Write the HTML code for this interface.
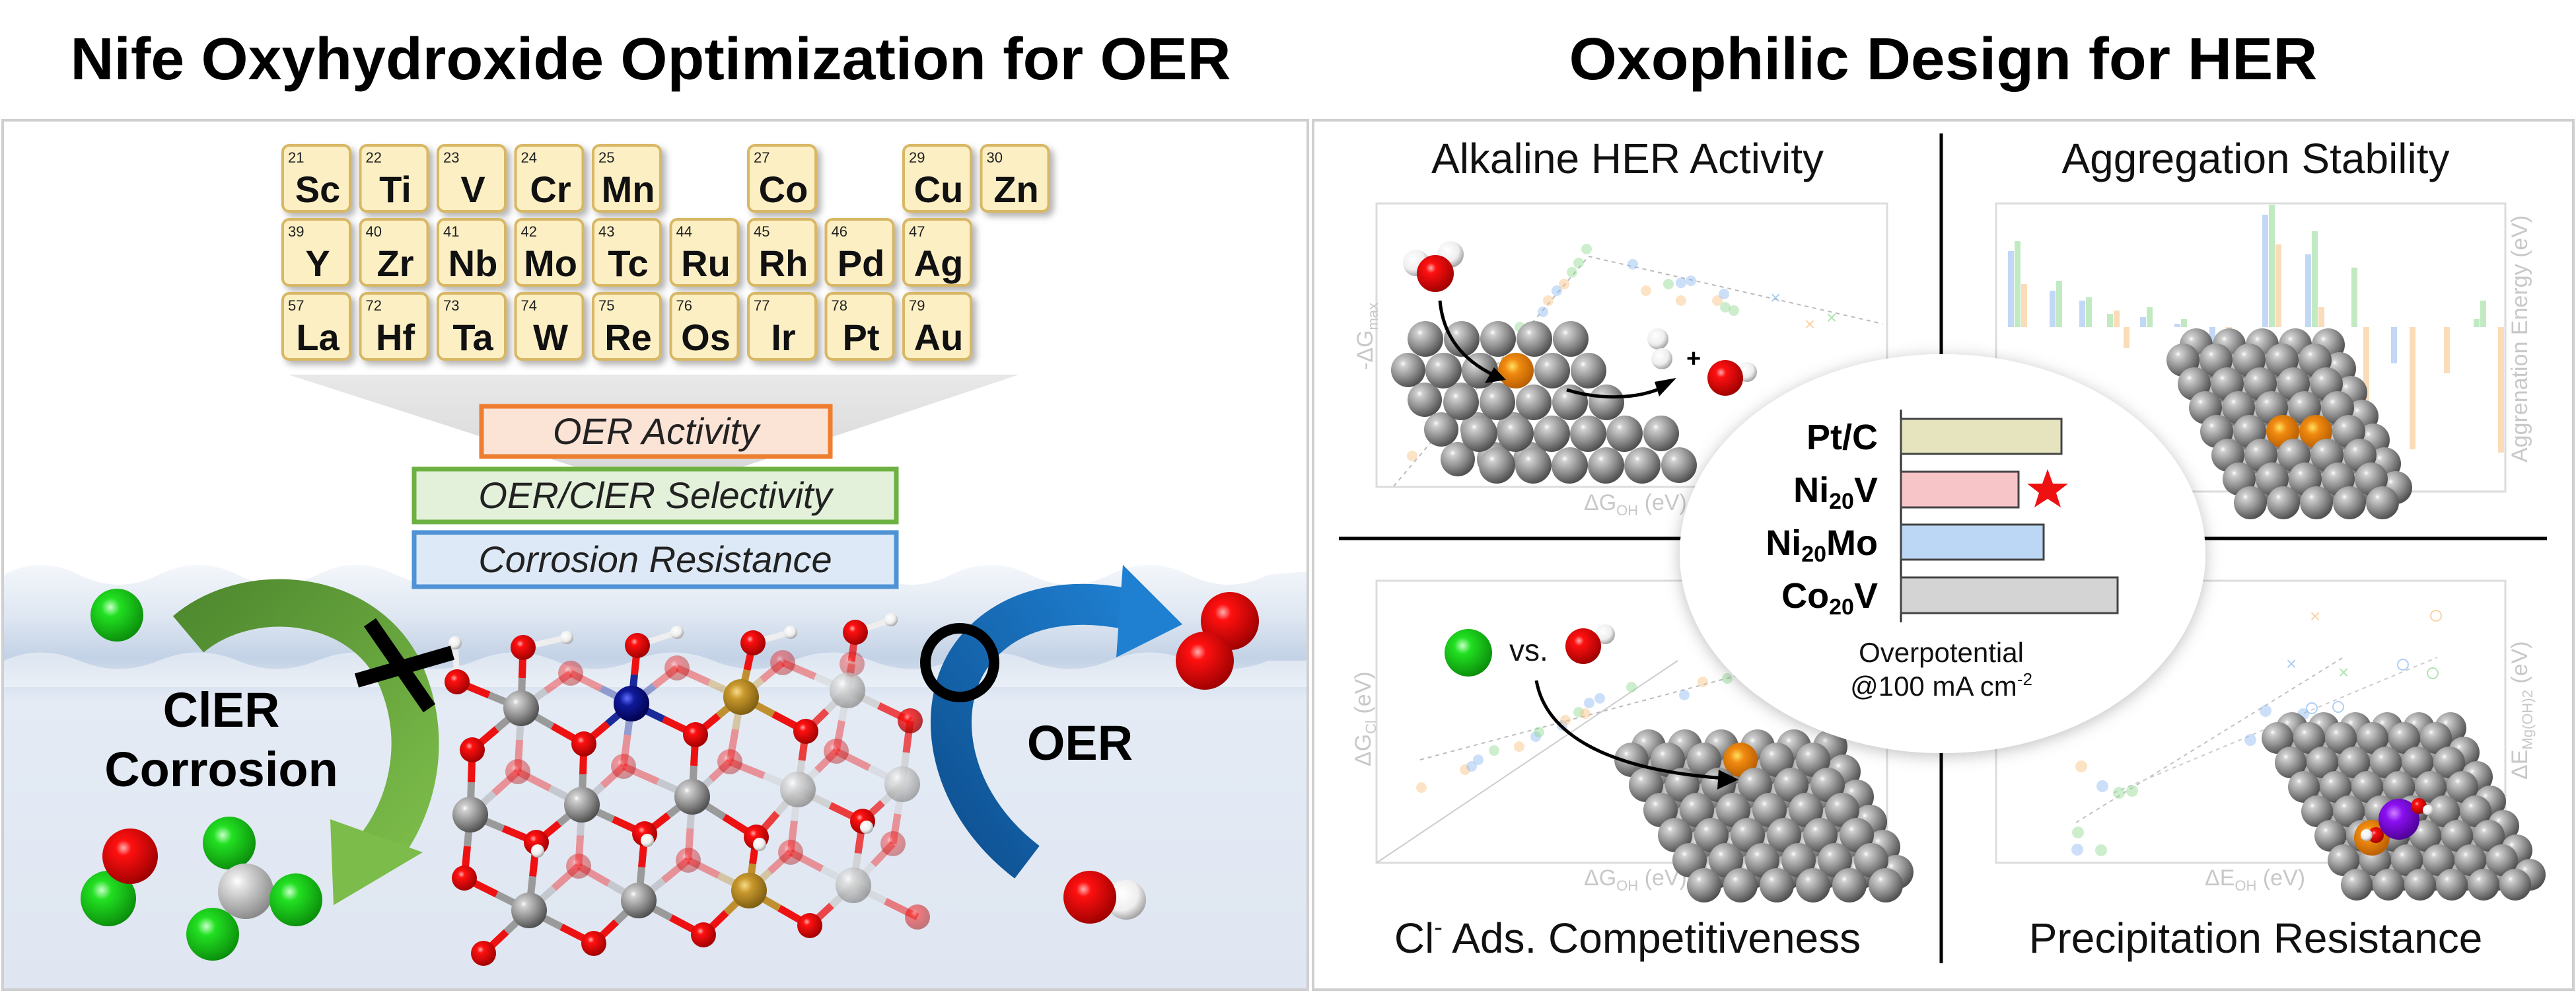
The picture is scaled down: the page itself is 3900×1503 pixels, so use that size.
<!DOCTYPE html>
<html><head><meta charset="utf-8">
<style>
html,body{margin:0;padding:0;background:#fff;}
body{width:3900px;height:1503px;position:relative;overflow:hidden;font-family:"Liberation Sans",Arial,sans-serif;}
svg{position:absolute;left:0;top:0;}
</style></head>
<body>
<svg id="s" width="3900" height="1503" viewBox="0 0 3900 1503" xmlns="http://www.w3.org/2000/svg">
<defs>
<radialGradient id="gGray" cx="35%" cy="32%" r="70%"><stop offset="0" stop-color="#ffffff"/><stop offset="0.12" stop-color="#d0d0d0"/><stop offset="0.6" stop-color="#8c8c8c"/><stop offset="1" stop-color="#505050"/></radialGradient>
<radialGradient id="gLGray" cx="35%" cy="32%" r="70%"><stop offset="0" stop-color="#ffffff"/><stop offset="0.2" stop-color="#e2e2e2"/><stop offset="1" stop-color="#8a8a8a"/></radialGradient>
<radialGradient id="gRed" cx="38%" cy="35%" r="70%"><stop offset="0" stop-color="#ffb0b0"/><stop offset="0.2" stop-color="#ff1010"/><stop offset="1" stop-color="#9a0000"/></radialGradient>
<radialGradient id="gGreen" cx="38%" cy="35%" r="70%"><stop offset="0" stop-color="#c8ffc8"/><stop offset="0.25" stop-color="#22e022"/><stop offset="1" stop-color="#0a8a0a"/></radialGradient>
<radialGradient id="gWhite" cx="38%" cy="35%" r="70%"><stop offset="0" stop-color="#ffffff"/><stop offset="0.6" stop-color="#eeeeee"/><stop offset="1" stop-color="#9a9a9a"/></radialGradient>
<radialGradient id="gOrange" cx="40%" cy="38%" r="70%"><stop offset="0" stop-color="#ffe060"/><stop offset="0.3" stop-color="#f08a10"/><stop offset="1" stop-color="#b05800"/></radialGradient>
<radialGradient id="gBlue" cx="38%" cy="35%" r="70%"><stop offset="0" stop-color="#6070ff"/><stop offset="0.3" stop-color="#101a9a"/><stop offset="1" stop-color="#00004a"/></radialGradient>
<radialGradient id="gGold" cx="38%" cy="35%" r="70%"><stop offset="0" stop-color="#f6dc8a"/><stop offset="0.3" stop-color="#c8982c"/><stop offset="1" stop-color="#7a5a10"/></radialGradient>
<radialGradient id="gPurple" cx="38%" cy="35%" r="70%"><stop offset="0" stop-color="#d080ff"/><stop offset="0.3" stop-color="#8a10f0"/><stop offset="1" stop-color="#4a0090"/></radialGradient>
<linearGradient id="water" x1="0" y1="0" x2="0" y2="1">
<stop offset="0" stop-color="#f4f7fb"/><stop offset="0.12" stop-color="#dfe7f2"/><stop offset="0.22" stop-color="#c3d2e6"/><stop offset="0.32" stop-color="#e4ebf5"/><stop offset="1" stop-color="#dfe6f1"/></linearGradient>
<linearGradient id="funnel" x1="0" y1="0" x2="0" y2="1"><stop offset="0" stop-color="#e6e6e6"/><stop offset="1" stop-color="#cfcfcf"/></linearGradient>
<linearGradient id="greenArr" x1="0" y1="0" x2="1" y2="1"><stop offset="0" stop-color="#4f8a2f"/><stop offset="1" stop-color="#7cbc4a"/></linearGradient>
<linearGradient id="blueArr" x1="0" y1="1" x2="1" y2="0"><stop offset="0" stop-color="#0d4f8f"/><stop offset="1" stop-color="#1f7fd0"/></linearGradient>
<filter id="sh" x="-20%" y="-20%" width="150%" height="150%"><feDropShadow dx="6" dy="6" stdDeviation="5" flood-color="#000" flood-opacity="0.3"/></filter>
<filter id="csh" x="-20%" y="-20%" width="140%" height="140%"><feDropShadow dx="0" dy="4" stdDeviation="12" flood-color="#000" flood-opacity="0.25"/></filter>
</defs>

<!-- Titles -->
<text x="985" y="120" font-size="90" font-weight="bold" text-anchor="middle" fill="#000" textLength="1757" lengthAdjust="spacingAndGlyphs">Nife Oxyhydroxide Optimization for OER</text>
<text x="2942" y="120" font-size="90" font-weight="bold" text-anchor="middle" fill="#000" textLength="1133" lengthAdjust="spacingAndGlyphs">Oxophilic Design for HER</text>

<!-- Left panel -->
<rect x="4" y="182" width="1976" height="1316" fill="#fff" stroke="#cfcfcf" stroke-width="4"/>
<path d="M6,870 Q60,840 120,870 T240,870 T360,870 T480,870 T600,870 T720,870 T840,870 T960,870 T1080,870 T1200,870 T1320,870 T1440,870 T1560,870 T1680,870 T1800,870 T1920,870 L1978,865 L1978,1496 L6,1496 Z" fill="url(#water)"/>
<path d="M6,1000 Q60,975 120,1000 T240,1000 T360,1000 T480,1000 T600,1000 T720,1000 T840,1000 T960,1000 T1080,1000 T1200,1000 T1320,1000 T1440,1000 T1560,1000 T1680,1000 T1800,1000 T1920,1000 L1978,1000 L1978,1040 L6,1040 Z" fill="#ffffff" opacity="0.45"/>

<polygon points="436,567 1543,567 1000,748" fill="url(#funnel)" opacity="0.9"/>

<g id="ptable"></g>

<rect x="729" y="615" width="528" height="76" fill="#fbe3d6" stroke="#ef7d2f" stroke-width="7"/>
<text x="993" y="672" font-size="56" font-style="italic" text-anchor="middle" fill="#222">OER Activity</text>
<rect x="627" y="710" width="730" height="80" fill="#e3f1da" stroke="#6db143" stroke-width="7"/>
<text x="992" y="769" font-size="56" font-style="italic" text-anchor="middle" fill="#222">OER/ClER Selectivity</text>
<rect x="627" y="806" width="730" height="82" fill="#dde9f6" stroke="#4f93d6" stroke-width="7"/>
<text x="992" y="866" font-size="56" font-style="italic" text-anchor="middle" fill="#222">Corrosion Resistance</text>

<path d="M285,960 C380,880 560,900 610,1030 C650,1130 620,1230 570,1290" fill="none" stroke="url(#greenArr)" stroke-width="72"/>
<polygon points="500,1240 640,1290 505,1370" fill="#7cbc4a"/>
<path d="M1555,1305 C1430,1210 1410,1060 1480,980 C1540,910 1640,905 1720,925" fill="none" stroke="url(#blueArr)" stroke-width="62"/>
<polygon points="1700,855 1790,945 1690,995" fill="#1f7fd0"/>

<g id="crystal"></g>

<line x1="560" y1="942" x2="650" y2="1072" stroke="#000" stroke-width="22"/>
<line x1="540" y1="1030" x2="685" y2="988" stroke="#000" stroke-width="22"/>
<circle cx="1453" cy="1003" r="52" fill="none" stroke="#000" stroke-width="16"/>

<circle cx="177" cy="931" r="40" fill="url(#gGreen)"/>
<circle cx="1862" cy="940" r="44" fill="url(#gRed)"/>
<circle cx="1824" cy="1000" r="44" fill="url(#gRed)"/>
<circle cx="164" cy="1360" r="42" fill="url(#gGreen)"/>
<circle cx="197" cy="1296" r="42" fill="url(#gRed)"/>
<circle cx="347" cy="1276" r="40" fill="url(#gGreen)"/>
<circle cx="372" cy="1349" r="42" fill="url(#gLGray)"/>
<circle cx="448" cy="1362" r="40" fill="url(#gGreen)"/>
<circle cx="322" cy="1414" r="40" fill="url(#gGreen)"/>
<circle cx="1705" cy="1362" r="30" fill="url(#gWhite)"/>
<circle cx="1650" cy="1358" r="40" fill="url(#gRed)"/>

<text x="335" y="1100" font-size="74" font-weight="bold" text-anchor="middle" fill="#000">ClER</text>
<text x="335" y="1190" font-size="74" font-weight="bold" text-anchor="middle" fill="#000">Corrosion</text>
<text x="1635" y="1150" font-size="74" font-weight="bold" text-anchor="middle" fill="#000">OER</text>

<!-- Right panel -->
<rect x="1988" y="182" width="1908" height="1316" fill="#fff" stroke="#cfcfcf" stroke-width="4"/>
<line x1="2939" y1="202" x2="2939" y2="1458" stroke="#000" stroke-width="5"/>
<line x1="2027" y1="815" x2="3856" y2="815" stroke="#000" stroke-width="5"/>

<text x="2464" y="262" font-size="64" text-anchor="middle" fill="#111">Alkaline HER Activity</text>
<text x="3415" y="262" font-size="64" text-anchor="middle" fill="#111">Aggregation Stability</text>
<text x="2464" y="1442" font-size="64" text-anchor="middle" fill="#111">Cl<tspan font-size="38" dy="-26">-</tspan><tspan dy="26"> Ads. Competitiveness</tspan></text>
<text x="3415" y="1442" font-size="64" text-anchor="middle" fill="#111">Precipitation Resistance</text>

<g fill="none" stroke="#dcdcdc" stroke-width="3">
<rect x="2084" y="308" width="773" height="429"/>
<rect x="3022" y="308" width="771" height="436"/>
<rect x="2084" y="879" width="773" height="427"/>
<rect x="3022" y="879" width="771" height="427"/>
</g>
<g id="plots"></g>

<g fill="#c8c8c8" font-size="34">
<text transform="translate(2078,560) rotate(-90)">-ΔG<tspan font-size="22" dy="8">max</tspan></text>
<text x="2398" y="772">ΔG<tspan font-size="22" dy="8">OH</tspan><tspan dy="-8"> (eV)</tspan></text>
<text transform="translate(3826,700) rotate(-90)">Aggrenation Energy (eV)</text>
<text transform="translate(2075,1160) rotate(-90)">ΔG<tspan font-size="22" dy="8">Cl</tspan><tspan dy="-8"> (eV)</tspan></text>
<text x="2398" y="1340">ΔG<tspan font-size="22" dy="8">OH</tspan><tspan dy="-8"> (eV)</tspan></text>
<text transform="translate(3826,1180) rotate(-90)">ΔE<tspan font-size="22" dy="8">Mg(OH)2</tspan><tspan dy="-8"> (eV)</tspan></text>
<text x="3338" y="1340">ΔE<tspan font-size="22" dy="8">OH</tspan><tspan dy="-8"> (eV)</tspan></text>
</g>

<g id="slabs"></g>

<g id="mols">
<circle cx="2144" cy="398" r="20" fill="url(#gWhite)"/>
<circle cx="2196" cy="385" r="20" fill="url(#gWhite)"/>
<circle cx="2173" cy="414" r="28" fill="url(#gRed)"/>
<path d="M2180,455 C2185,510 2215,545 2262,568" fill="none" stroke="#000" stroke-width="5"/>
<polygon points="2280,575 2248,580 2262,556" fill="#000"/>
<path d="M2372,590 C2420,605 2480,605 2520,585" fill="none" stroke="#000" stroke-width="5"/>
<polygon points="2538,572 2512,600 2505,578" fill="#000"/>
<circle cx="2510" cy="513" r="16" fill="url(#gWhite)"/>
<circle cx="2516" cy="543" r="16" fill="url(#gWhite)"/>
<text x="2553" y="555" font-size="38" font-weight="bold">+</text>
<circle cx="2645" cy="563" r="15" fill="url(#gWhite)"/>
<circle cx="2612" cy="572" r="27" fill="url(#gRed)"/>

<circle cx="2223" cy="988" r="36" fill="url(#gGreen)"/>
<text x="2285" y="1000" font-size="46" fill="#111">vs.</text>
<circle cx="2430" cy="960" r="15" fill="url(#gWhite)"/>
<circle cx="2397" cy="978" r="27" fill="url(#gRed)"/>
<path d="M2326,1030 C2340,1110 2430,1165 2610,1178" fill="none" stroke="#000" stroke-width="5"/>
<polygon points="2632,1180 2600,1195 2602,1165" fill="#000"/>
</g>

<ellipse cx="2941" cy="838" rx="398" ry="302" fill="#fff" filter="url(#csh)"/>
<line x1="2878" y1="620" x2="2878" y2="942" stroke="#333" stroke-width="3"/>
<rect x="2878" y="634" width="243" height="53" fill="#e6e3bf" stroke="#444" stroke-width="3"/>
<rect x="2878" y="714" width="178" height="54" fill="#f7c5c7" stroke="#444" stroke-width="3"/>
<rect x="2878" y="794" width="216" height="53" fill="#bcd7f5" stroke="#444" stroke-width="3"/>
<rect x="2878" y="874" width="328" height="54" fill="#d4d4d4" stroke="#444" stroke-width="3"/>
<polygon points="3100,710 3108,732 3131,732 3113,746 3120,768 3100,755 3080,768 3087,746 3069,732 3092,732" fill="#ee1111"/>
<g font-size="54" font-weight="bold" text-anchor="end" fill="#000">
<text x="2843" y="680">Pt/C</text>
<text x="2843" y="760">Ni<tspan font-size="34" dy="10">20</tspan><tspan dy="-10">V</tspan></text>
<text x="2843" y="840">Ni<tspan font-size="34" dy="10">20</tspan><tspan dy="-10">Mo</tspan></text>
<text x="2843" y="920">Co<tspan font-size="34" dy="10">20</tspan><tspan dy="-10">V</tspan></text>
</g>
<text x="2939" y="1002" font-size="42" text-anchor="middle" fill="#111">Overpotential</text>
<text x="2939" y="1053" font-size="42" text-anchor="middle" fill="#111">@100 mA cm<tspan font-size="26" dy="-16">-2</tspan></text>
</svg>

<script>
var NS="http://www.w3.org/2000/svg";
function el(parent,tag,attrs,txt){var e=document.createElementNS(NS,tag);for(var k in attrs)e.setAttribute(k,attrs[k]);if(txt!==undefined)e.textContent=txt;parent.appendChild(e);return e;}
var pt=document.getElementById('ptable');
var rows=[[["21","Sc",0],["22","Ti",1],["23","V",2],["24","Cr",3],["25","Mn",4],["27","Co",6],["29","Cu",8],["30","Zn",9]],
[["39","Y",0],["40","Zr",1],["41","Nb",2],["42","Mo",3],["43","Tc",4],["44","Ru",5],["45","Rh",6],["46","Pd",7],["47","Ag",8]],
[["57","La",0],["72","Hf",1],["73","Ta",2],["74","W",3],["75","Re",4],["76","Os",5],["77","Ir",6],["78","Pt",7],["79","Au",8]]];
var ry=[220,332,444];
rows.forEach(function(r,i){r.forEach(function(c){var x=428+c[2]*117.5,y=ry[i];
el(pt,'rect',{x:x,y:y,width:102,height:100,rx:10,fill:'#fcefc4',stroke:'#d8b765','stroke-width':4,filter:'url(#sh)'});
el(pt,'text',{x:x+8,y:y+26,'font-size':22,fill:'#222'},c[0]);
el(pt,'text',{x:x+53,y:y+86,'font-size':56,'font-weight':'bold','text-anchor':'middle',fill:'#111'},c[1]);});});
var cr=document.getElementById('crystal');
var metals=[[789,1072,'gGray',1],[956,1065,'gBlue',1],[1122,1055,'gGold',1],[1283,1045,'gLGray',0.75],[712,1233,'gGray',1],[881,1218,'gGray',1],[1048,1206,'gGray',1],[1208,1195,'gLGray',0.8],[1366,1187,'gLGray',0.7],[801,1378,'gGray',1],[967,1363,'gGray',1],[1134,1348,'gGold',1],[1292,1340,'gLGray',0.75]];
var ox=[[692,1032,1],[792,980,1],[965,977,1],[1140,973,1],[1295,957,1],[884,1126,1],[1053,1112,1],[1220,1107,1],[1378,1091,0.8],[715,1135,1],[703,1329,1],[812,1275,1],[976,1262,1],[1145,1267,1],[1306,1243,1],[732,1443,1],[899,1428,1],[1065,1415,1],[1226,1401,1],[1389,1388,0.5],
[864,1019,0.4],[1025,1011,0.4],[1185,1003,0.4],[784,1168,0.4],[944,1160,0.4],[1105,1153,0.4],[1266,1137,0.4],[876,1311,0.4],[1042,1302,0.4],[1197,1290,0.4],[1352,1277,0.4],[1290,1005,0.35]];
var mcol={gGray:'#9a9a9a',gBlue:'#1a2a9a',gGold:'#c09030',gLGray:'#cccccc'};
metals.forEach(function(m){ox.forEach(function(o){var dx=o[0]-m[0],dy=o[1]-m[1],d=Math.sqrt(dx*dx+dy*dy);if(d<125){var mx=(m[0]+o[0])/2,my=(m[1]+o[1])/2;var op=Math.min(m[3],o[2]);
el(cr,'line',{x1:m[0],y1:m[1],x2:mx,y2:my,stroke:mcol[m[2]],'stroke-width':11,opacity:op});
el(cr,'line',{x1:mx,y1:my,x2:o[0],y2:o[1],stroke:'#ee1111','stroke-width':11,opacity:op});}});});
[[692,1032,689,973],[792,980,858,965],[965,977,1025,957],[1140,973,1197,957],[1295,957,1349,938]].forEach(function(h){el(cr,'line',{x1:h[0],y1:h[1],x2:h[2],y2:h[3],stroke:'#eee','stroke-width':9});});
ox.slice().sort(function(a,b){return a[2]-b[2]}).forEach(function(o){el(cr,'circle',{cx:o[0],cy:o[1],r:19,fill:'url(#gRed)',opacity:o[2]});});
metals.forEach(function(m){el(cr,'circle',{cx:m[0],cy:m[1],r:27,fill:'url(#'+m[2]+')',opacity:m[3]});});
[[689,973],[858,965],[1025,957],[1197,957],[1349,938],[814,1288],[980,1272],[1150,1278],[1312,1252]].forEach(function(h){el(cr,'circle',{cx:h[0],cy:h[1],r:10,fill:'url(#gWhite)'});});
var pl=document.getElementById('plots');
function dot(x,y,c,r){el(pl,'circle',{cx:x,cy:y,r:r||8,fill:c,opacity:0.45});}
var B='#8fb8ef',G='#8fd98f',O='#f8c080';
el(pl,'polyline',{points:'2110,736 2405,388 2850,490',fill:'none',stroke:'#bbb','stroke-width':2,'stroke-dasharray':'6,6'});
[[2380,412,G],[2390,398,G],[2368,430,O],[2357,440,B],[2344,455,O],[2336,472,B],[2402,377,G],[2472,400,B],[2492,440,O],[2526,430,G],[2545,428,B],[2560,425,B],[2545,455,O],[2600,455,O],[2612,465,G],[2625,470,G],[2610,445,B],[2138,690,O],[2301,495,G]].forEach(function(d){dot(d[0],d[1],d[2]);});
var base=495;var bars=[[3040,-115,B],[3050,-130,G],[3060,-65,O],[3103,-55,B],[3113,-70,G],[3148,-40,B],[3158,-45,G],[3190,-20,G],[3200,-25,O],[3215,32,O],[3240,-15,B],[3250,-30,G],[3292,-5,B],[3302,-12,G],[3345,115,B],[3370,50,O],[3425,-170,B],[3435,-185,G],[3445,-125,O],[3490,-110,B],[3500,-145,G],[3510,-30,O],[3560,-90,G],[3578,195,O],[3620,55,B],[3648,185,O],[3700,70,O],[3745,-12,G],[3755,-40,G],[3782,190,O]];
bars.forEach(function(b){var h=b[1];el(pl,'rect',{x:b[0],y:h<0?base+h:base,width:9,height:Math.abs(h),fill:b[2],opacity:0.55});});
el(pl,'line',{x1:2084,y1:1306,x2:2540,y2:1000,stroke:'#ccc','stroke-width':2});
el(pl,'line',{x1:2150,y1:1150,x2:2640,y2:1020,stroke:'#bbb','stroke-width':2,'stroke-dasharray':'6,6'});
[[2152,1192,O],[2218,1165,O],[2228,1160,B],[2238,1150,B],[2262,1136,G],[2300,1130,O],[2325,1115,B],[2330,1108,G],[2365,1098,B],[2370,1090,O],[2390,1078,G],[2406,1064,B],[2422,1057,B],[2400,1080,O],[2470,1040,G],[2550,1052,B],[2578,1032,O],[2615,1027,G],[2640,1025,O]].forEach(function(d){dot(d[0],d[1],d[2]);});
el(pl,'line',{x1:3143,y1:1245,x2:3546,y2:996,stroke:'#999','stroke-width':2,'stroke-dasharray':'6,6',opacity:0.6});
el(pl,'line',{x1:3200,y1:1200,x2:3690,y2:995,stroke:'#ccc','stroke-width':2,'stroke-dasharray':'6,6'});
[[3151,1160,O],[3183,1190,B],[3208,1200,G],[3228,1197,G],[3146,1260,G],[3145,1286,B],[3181,1287,G],[3430,1076,B],[3487,1081,B],[3407,1120,B]].forEach(function(d){dot(d[0],d[1],d[2],9);});
[[3505,942,O],[3469,1014,B],[3548,1027,G]].forEach(function(d){el(pl,'text',{x:d[0],y:d[1],'font-size':28,fill:d[2],'text-anchor':'middle',opacity:0.7},'×');});
[[3688,942,O],[3638,1016,B],[3683,1029,G],[3500,1082,B],[3540,1080,B]].forEach(function(d){el(pl,'circle',{cx:d[0],cy:d[1]-10,r:8,fill:'none',stroke:d[2],'stroke-width':2,opacity:0.7});});
[[2688,460,B],[2740,500,O],[2773,490,G]].forEach(function(d){el(pl,'text',{x:d[0],y:d[1],'font-size':28,fill:d[2],'text-anchor':'middle',opacity:0.7},'×');});
var sl=document.getElementById('slabs');
function slab(x0,y0,rows,cols,cdx,rdx,rdy,r,special){
  for(var i=0;i<rows;i++)for(var j=0;j<cols;j++){var x=x0+i*rdx+j*cdx,y=y0+i*rdy;var f='url(#gGray)';
    if(special){for(var k=0;k<special.length;k++){if(special[k][0]==i&&special[k][1]==j)f='url(#gOrange)';}}
    el(sl,'circle',{cx:x,cy:y,r:r,fill:f});}
}
// TL
slab(2132,560,4,3,55,25,45,26);
slab(2158,513,5,5,55,27,48,27,[[1,2]]);
slab(2240,656,2,6,55,27,48,27);
// TR
slab(3325,522,7,5,50,17,36,25);
slab(3305,545,7,5,50,17,36,25,[[3,2],[3,3]]);
// BL
slab(2496,1130,6,6,55,20,38,26);
slab(2470,1150,6,6,55,22,38,26,[[0,3]]);
// BR
slab(3470,1102,7,6,48,20,37,24);
slab(3448,1117,7,6,48,20,37,24);
el(sl,'circle',{cx:3591,cy:1268,r:27,fill:'url(#gOrange)'});
el(sl,'circle',{cx:3597,cy:1264,r:12,fill:'url(#gRed)'});
el(sl,'circle',{cx:3583,cy:1264,r:9,fill:'url(#gWhite)'});
el(sl,'circle',{cx:3632,cy:1240,r:31,fill:'url(#gPurple)'});
el(sl,'circle',{cx:3662,cy:1220,r:12,fill:'url(#gRed)'});
el(sl,'circle',{cx:3676,cy:1226,r:8,fill:'url(#gWhite)'});
// keep molecules on top of slabs
var m=document.getElementById('mols');m.parentNode.appendChild(m);
var c=document.querySelector('ellipse');var after=[];var n=c;while(n){after.push(n);n=n.nextElementSibling;}
after.forEach(function(x){if(x.tagName!=='script')c.parentNode.appendChild(x);});
</script>
</body></html>
